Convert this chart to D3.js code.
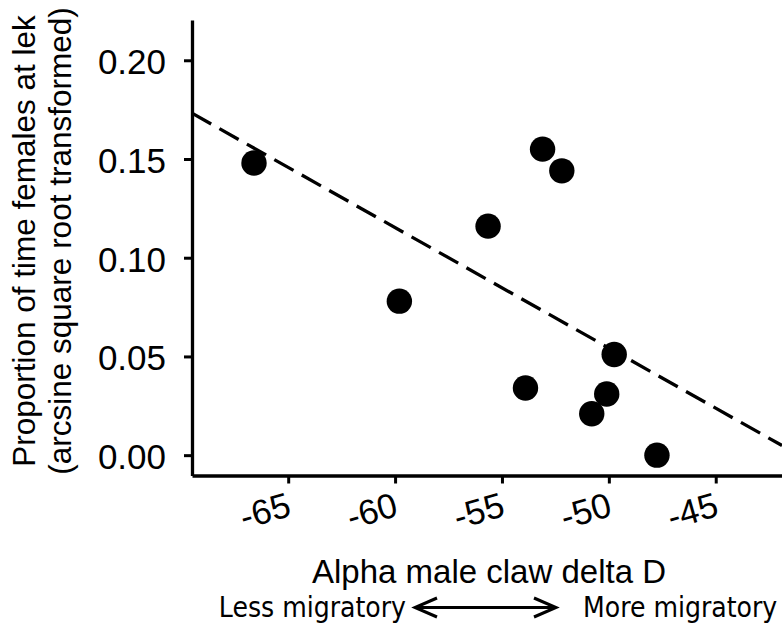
<!DOCTYPE html>
<html>
<head>
<meta charset="utf-8">
<script src="https://cdn.jsdelivr.net/npm/d3@7"></script>
<style>
  body { margin: 0; background: #fff; }
  svg { display: block; }
</style>
</head>
<body>
<div id="chart"></div>
<script>
// --- PART 1: DATA ---
// alpha male claw delta D vs. proportion of time females at lek
const clawDeltaD = [-66.6, -59.8, -55.65, -53.9, -53.1, -52.2, -50.8, -50.1, -49.75, -47.75];
const femaleTime = [0.148, 0.078, 0.116, 0.034, 0.155, 0.144, 0.021, 0.031, 0.051, 0.0];

const fitX = [-69.5, -41.9];
const fitY = [0.1732, 0.0049];

const xTicks = [-65, -60, -55, -50, -45];
const yTicks = [0.00, 0.05, 0.10, 0.15, 0.20];

// --- PART 2: SETUP ---
const width = 782;
const height = 626;
const plotLeft = 192, plotRight = 782, plotTop = 20, plotBottom = 475.5;

const svg = d3.select("#chart").append("svg")
  .attr("width", width)
  .attr("height", height);

const x = d3.scaleLinear().domain([-69.5, -41.9]).range([plotLeft, plotRight]);
const y = d3.scaleLinear().domain([-0.0103, 0.2204]).range([plotBottom, plotTop]);

const axisFont = "'Liberation Sans', Arial, sans-serif";
const noteFont = "'DejaVu Sans Condensed', 'DejaVu Sans', sans-serif";

// --- PART 3: AXES ---
const yAxis = svg.append("g")
  .attr("transform", `translate(${plotLeft},0)`)
  .call(d3.axisLeft(y).tickValues(yTicks).tickFormat(d3.format(".2f"))
    .tickSize(8).tickSizeOuter(0).tickPadding(18));

const xAxis = svg.append("g")
  .attr("transform", `translate(0,${plotBottom})`)
  .call(d3.axisBottom(x).tickValues(xTicks).tickFormat(d => d)
    .tickSize(8).tickSizeOuter(0));

[yAxis, xAxis].forEach(g => {
  g.select(".domain").attr("stroke", "#000").attr("stroke-width", 3.3);
  g.selectAll(".tick line").attr("stroke", "#000").attr("stroke-width", 3);
  g.selectAll(".tick text")
    .attr("fill", "#000")
    .style("font-family", axisFont)
    .style("font-size", "35px");
});

yAxis.selectAll(".tick text").attr("dy", "0.38em");

// rotated x tick labels
xAxis.selectAll(".tick text")
  .attr("y", 0)
  .attr("dy", 0)
  .attr("text-anchor", "end")
  .attr("transform", "translate(4,40) rotate(-16)")
  .text(d => "-" + Math.abs(d));

// --- PART 4: FIT LINE AND POINTS ---
svg.append("defs").append("clipPath").attr("id", "plot-clip")
  .append("rect")
  .attr("x", plotLeft).attr("y", plotTop)
  .attr("width", plotRight - plotLeft).attr("height", plotBottom - plotTop);

svg.append("line")
  .attr("clip-path", "url(#plot-clip)")
  .attr("x1", x(fitX[0])).attr("y1", y(fitY[0]))
  .attr("x2", x(fitX[1])).attr("y2", y(fitY[1]))
  .attr("stroke", "#000")
  .attr("stroke-width", 3.3)
  .attr("stroke-dasharray", "22,9.5");

svg.selectAll("circle.pt")
  .data(d3.range(clawDeltaD.length))
  .enter()
  .append("circle")
  .attr("class", "pt")
  .attr("cx", i => x(clawDeltaD[i]))
  .attr("cy", i => y(femaleTime[i]))
  .attr("r", 12.7)
  .attr("fill", "#000");

// --- PART 5: AXIS TITLES ---
const yTitle = svg.append("text")
  .attr("transform", "translate(0,241) rotate(-90)")
  .attr("text-anchor", "middle")
  .style("font-family", axisFont)
  .style("font-size", "31.5px");
yTitle.append("tspan").attr("x", 0).attr("y", 35).text("Proportion of time females at lek");
yTitle.append("tspan").attr("x", 0).attr("y", 71).text("(arcsine square root transformed)");

svg.append("text")
  .attr("x", 489)
  .attr("y", 583)
  .attr("text-anchor", "middle")
  .style("font-family", axisFont)
  .style("font-size", "33px")
  .text("Alpha male claw delta D");

svg.append("text")
  .attr("x", 406)
  .attr("y", 617)
  .attr("text-anchor", "end")
  .style("font-family", noteFont)
  .style("font-size", "28px")
  .text("Less migratory");

svg.append("text")
  .attr("x", 583)
  .attr("y", 617)
  .attr("text-anchor", "start")
  .style("font-family", noteFont)
  .style("font-size", "28px")
  .text("More migratory");

// double-headed arrow between the two labels
const arrowY = 607.5, arrowL = 415, arrowR = 556, headW = 22, headH = 9.5;
svg.append("path")
  .attr("d", `M${arrowL},${arrowY}H${arrowR}` +
    `M${arrowL + headW},${arrowY - headH}L${arrowL},${arrowY}L${arrowL + headW},${arrowY + headH}` +
    `M${arrowR - headW},${arrowY - headH}L${arrowR},${arrowY}L${arrowR - headW},${arrowY + headH}`)
  .attr("fill", "none")
  .attr("stroke", "#000")
  .attr("stroke-width", 3);
</script>
</body>
</html>
